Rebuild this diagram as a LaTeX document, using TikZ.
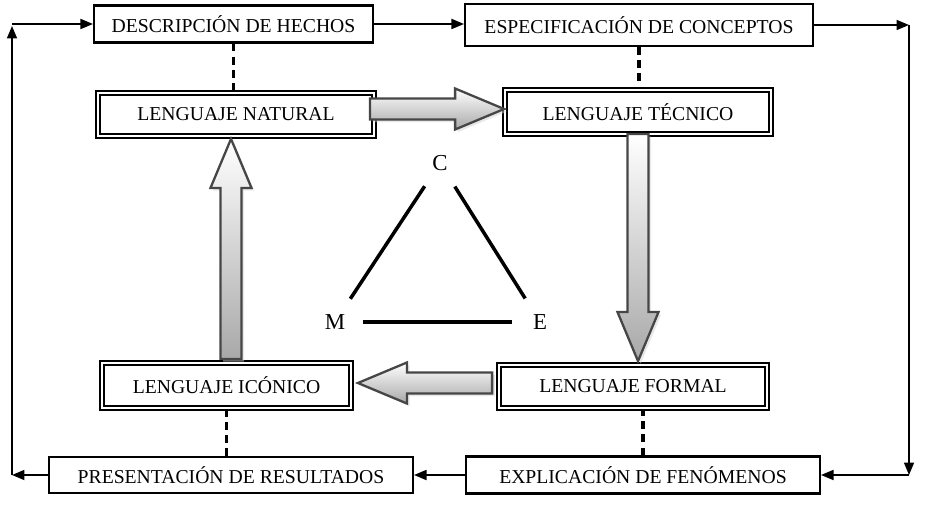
\documentclass[tikz,border=0pt]{standalone}
\usepackage{fontspec}
\setmainfont{Liberation Serif}
\usetikzlibrary{arrows.meta,calc,shadows}

\tikzset{
  hechobox/.style={draw, line width=1.2pt, fill=white, inner sep=0pt,
    font=\fontsize{11.2}{13}\selectfont},
  lenguaje/.style={draw, line width=1.05pt, double, double distance=1.3pt,
    fill=white, inner sep=0pt, font=\fontsize{11.2}{13}\selectfont},
  vertice/.style={circle, inner sep=0pt, minimum size=1.1cm,
    font=\fontsize{13}{15}\selectfont},
  flow/.style={line width=1pt, -{Triangle[length=2.5mm,width=2mm]}},
  enlace/.style={line width=2pt, dash pattern=on 4.5pt off 3pt},
  lado/.style={line width=2pt},
  fatarr/.style={draw=gray!55!black, line width=1.3pt, top color=white,
    bottom color=gray!68, drop shadow={shadow xshift=1.5pt,
    shadow yshift=-1.5pt, fill=gray!35}}
}

% block arrow from #1 to the tip #2
\newcommand{\fatarrow}[2]{%
  \coordinate (fa-b) at ($(#2)!0.98cm!(#1)$);
  \draw[fatarr] ($(#1)!0.21cm!90:(#2)$) -- ($(fa-b)!0.21cm!90:(#2)$)
    -- ($(fa-b)!0.41cm!90:(#2)$) -- (#2) -- ($(fa-b)!0.41cm!-90:(#2)$)
    -- ($(fa-b)!0.21cm!-90:(#2)$) -- ($(#1)!0.21cm!-90:(#2)$) -- cycle;}

\begin{document}
\begin{tikzpicture}[x=0.02cm,y=-0.02cm]
\useasboundingbox (0,0) rectangle (928,509);

% outer boxes
\node[hechobox, minimum width=5.58cm, minimum height=0.74cm] (desc) at (233.5,24) {DESCRIPCIÓN DE HECHOS};
\node[hechobox, minimum width=6.96cm, minimum height=0.84cm] (espec) at (639,25) {ESPECIFICACIÓN DE CONCEPTOS};
\node[hechobox, minimum width=7.28cm, minimum height=0.72cm] (pres) at (231,475) {PRESENTACIÓN DE RESULTADOS};
\node[hechobox, minimum width=7.08cm, minimum height=0.74cm] (expl) at (643,475) {EXPLICACIÓN DE FENÓMENOS};

% languages
\node[lenguaje, minimum width=5.52cm, minimum height=0.86cm] (nat) at (236,114.5) {LENGUAJE NATURAL};
\node[lenguaje, minimum width=5.32cm, minimum height=0.88cm] (tec) at (638,112) {LENGUAJE TÉCNICO};
\node[lenguaje, minimum width=5.36cm, minimum height=0.86cm] (for) at (633,386.5) {LENGUAJE FORMAL};
\node[lenguaje, minimum width=4.98cm, minimum height=0.90cm] (ico) at (226.5,385.5) {LENGUAJE ICÓNICO};

% dashed links
\draw[enlace] (desc.south) -- (desc.south |- nat.north);
\draw[enlace] (espec.south) -- (espec.south |- tec.north);
\draw[enlace] (ico.south) -- (ico.south |- pres.north);
\draw[enlace] (expl.north) -- (expl.north |- for.south);

% outer cycle
\coordinate (tl) at (12,24);
\coordinate (tr) at (909,25);
\coordinate (br) at (909,475);
\draw[flow] (desc.east) -- (desc.east -| espec.west);
\draw[flow] (espec.east) -- (tr);
\draw[flow] (tr) -- (br);
\draw[flow] (br) -- (expl.east);
\draw[flow] (expl.west) -- (pres.east);
\draw[flow] (pres.west) -- (pres.west -| tl);
\draw[flow] (pres.west -| tl) -- ($(tl)+(0,2)$);
\draw[flow] (tl) -- (desc.west);

% block arrows
\coordinate (n1) at ($(nat.east)+(-5,-5.5)$);
\coordinate (t1) at ($(tec.west)+(0,-3)$);
\fatarrow{n1}{t1}
\coordinate (t2) at ($(tec.south)+(0,-1)$);
\coordinate (f2) at ($(tec.south |- for.north)+(0,-3)$);
\fatarrow{t2}{f2}
\coordinate (f3) at ($(for.west)+(-6,-3.5)$);
\coordinate (i3) at ($(ico.east)+(6,-2.5)$);
\fatarrow{f3}{i3}
\coordinate (i4) at ($(ico.north)+(4.5,-3)$);
\coordinate (n4) at ($(nat.south)+(-5,2)$);
\fatarrow{i4}{n4}

% triangle
\node[vertice] (C) at (440,163) {C};
\node[vertice] (M) at (335,322) {M};
\node[vertice] (E) at (540,322) {E};
\draw[lado] (C) -- (M);
\draw[lado] (C) -- (E);
\draw[lado] (M) -- (E);
\end{tikzpicture}
\end{document}
